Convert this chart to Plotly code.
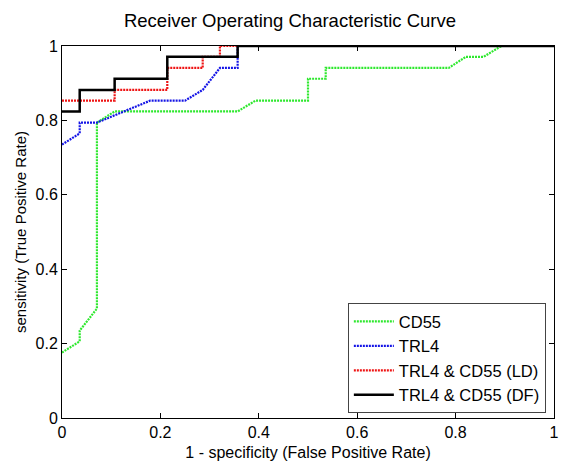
import plotly.graph_objects as go

# Data
cd55_fpr = [0, 0.036, 0.036, 0.071, 0.071, 0.107, 0.357, 0.393, 0.5, 0.5, 0.536, 0.536, 0.786, 0.821, 0.857, 0.893, 1]
cd55_tpr = [0.176, 0.206, 0.235, 0.294, 0.794, 0.824, 0.824, 0.853, 0.853, 0.912, 0.912, 0.941, 0.941, 0.971, 0.971, 1, 1]

trl4_fpr = [0, 0.036, 0.036, 0.071, 0.179, 0.25, 0.286, 0.321, 0.357, 0.357, 1]
trl4_tpr = [0.735, 0.765, 0.794, 0.794, 0.853, 0.853, 0.882, 0.941, 0.941, 1, 1]

ld_fpr = [0, 0.107, 0.107, 0.214, 0.214, 0.286, 0.286, 0.321, 0.321, 1]
ld_tpr = [0.853, 0.853, 0.882, 0.882, 0.941, 0.941, 0.971, 0.971, 1, 1]

df_fpr = [0, 0.036, 0.036, 0.107, 0.107, 0.214, 0.214, 0.357, 0.357, 1]
df_tpr = [0.824, 0.824, 0.882, 0.882, 0.912, 0.912, 0.971, 0.971, 1, 1]

tick_vals = [0, 0.2, 0.4, 0.6, 0.8, 1]
tick_text = ["0", "0.2", "0.4", "0.6", "0.8", "1"]

FONT = "Liberation Sans, Arial, Helvetica"

fig = go.Figure()
fig.add_trace(go.Scatter(x=cd55_fpr, y=cd55_tpr, mode="lines", name="CD55",
                         line=dict(color="#2ee82e", width=2.2, dash="2px,1px")))
fig.add_trace(go.Scatter(x=trl4_fpr, y=trl4_tpr, mode="lines", name="TRL4",
                         line=dict(color="#1414e6", width=2.2, dash="2px,1px")))
fig.add_trace(go.Scatter(x=ld_fpr, y=ld_tpr, mode="lines", name="TRL4 &amp; CD55 (LD)",
                         line=dict(color="#ee1414", width=2.2, dash="2px,1px")))
fig.add_trace(go.Scatter(x=df_fpr, y=df_tpr, mode="lines", name="TRL4 &amp; CD55 (DF)",
                         line=dict(color="black", width=2.5)))

axis_common = dict(
    range=[0, 1], tickvals=tick_vals, ticktext=tick_text,
    showgrid=False, zeroline=False, showline=True, linecolor="black", linewidth=1,
    mirror="ticks", ticks="inside", ticklen=5, tickcolor="black",
    ticklabeloverflow="allow",
    tickfont=dict(family=FONT, size=16, color="black"),
)

fig.update_layout(
    width=561, height=466,
    margin=dict(l=62, r=2, t=46, b=48),
    paper_bgcolor="white", plot_bgcolor="white",
    title=dict(text="Receiver Operating Characteristic Curve", x=0.517, xanchor="center",
               y=0.957, yanchor="middle",
               font=dict(family=FONT, size=18.5, color="black")),
    xaxis=dict(**axis_common,
               title=dict(text="1 - specificity (False Positive Rate)", standoff=6,
                          font=dict(family=FONT, size=16, color="black"))),
    yaxis=dict(**axis_common,
               title=dict(text="sensitivity (True Positive Rate)", standoff=5,
                          font=dict(family=FONT, size=15, color="black"))),
    legend=dict(x=0.581, y=0.013, xanchor="left", yanchor="bottom",
                bgcolor="white", bordercolor="#444", borderwidth=1,
                font=dict(family=FONT, size=16.5, color="black"),
                itemwidth=40, tracegroupgap=0),
    showlegend=True,
)

fig.write_html("out.html", config={"displayModeBar": False},
               post_script="document.body.style.margin='0';document.body.style.overflow='hidden';")
